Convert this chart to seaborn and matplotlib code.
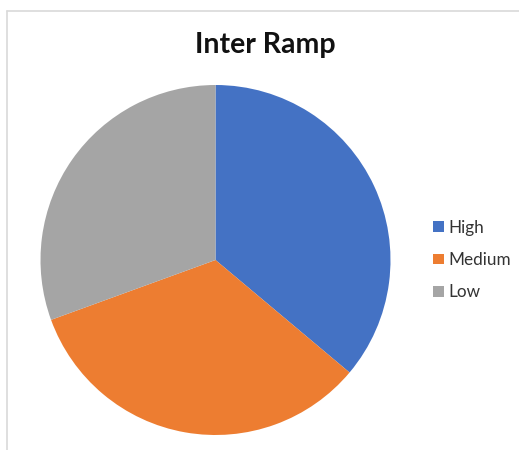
import matplotlib
matplotlib.use("Agg")
import matplotlib.pyplot as plt
from matplotlib.lines import Line2D
from matplotlib.patches import Patch
import seaborn as sns

categories = ["High", "Medium", "Low"]
values = [13, 12, 11]
colors = ["#4472C4", "#ED7D31", "#A5A5A5"]
title = "Inter Ramp"

sns.set_theme(style="white")
plt.rcParams["font.family"] = ["Lato", "DejaVu Sans"]

W, H = 519, 450
fig = plt.figure(figsize=(W / 100, H / 100), dpi=100)
fig.patch.set_facecolor("white")

cx, cy, r = 215.5, 260, 175
ax = fig.add_axes([(cx - r) / W, (H - cy - r) / H, 2 * r / W, 2 * r / H])
ax.pie(values, colors=colors, startangle=90, counterclock=False, radius=1,
       wedgeprops=dict(linewidth=0))
ax.set_xlim(-1, 1)
ax.set_ylim(-1, 1)
ax.set_aspect("equal")
ax.axis("off")

# chart frame (partially cropped)
fig.add_artist(Line2D([7 / W, 1], [1 - 11 / H, 1 - 11 / H], color="#d9d9d9", lw=1.2))
fig.add_artist(Line2D([7 / W, 7 / W], [0, 1 - 11 / H], color="#d9d9d9", lw=1.2))

fig.text(265 / W, 1 - 45 / H, title, ha="center", va="center",
         fontsize=20.5, fontweight="bold", color="#111111")

handles = [Patch(facecolor=c, edgecolor="none") for c in colors]
fig.legend(handles, categories, loc="center left",
           bbox_to_anchor=(418 / W, 1 - 260 / H), frameon=False,
           fontsize=12.3, handlelength=0.6, handleheight=0.6,
           handletextpad=0.3, labelspacing=0.95, labelcolor="#333333")

fig.savefig("out.png", dpi=100)
